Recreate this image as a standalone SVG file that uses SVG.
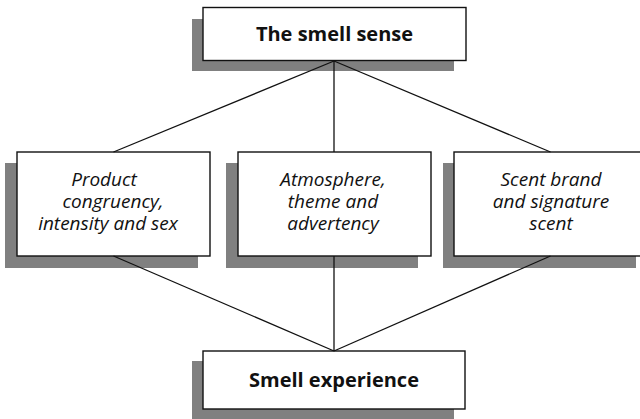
<svg xmlns="http://www.w3.org/2000/svg" width="640" height="419" viewBox="0 0 640 419">
<style>
.shadow{fill:#808080;stroke:none}
.box{fill:#fff;stroke:#111;stroke-width:1.4}
.title{font-family:"Open Sans","Liberation Sans",sans-serif;font-weight:bold;font-size:20px;fill:#111;text-anchor:middle}
.label{font-family:"Open Sans","Liberation Sans",sans-serif;font-style:italic;font-size:19px;fill:#111;text-anchor:middle}
.conn{stroke:#111;stroke-width:1.3;fill:none}
</style>
<rect width="640" height="419" fill="#fff"/>
<g id="node-smell-sense">
<rect class="shadow" x="192" y="19" width="262" height="52"/>
<rect class="box" x="203" y="7.5" width="263" height="53"/>
<text class="title" x="334.5" y="41">The smell sense</text>
</g>
<g id="node-product">
<rect class="shadow" x="5" y="163" width="193" height="105"/>
<rect class="box" x="17" y="152" width="193" height="104"/>
<text class="label" y="186"><tspan x="104">Product</tspan><tspan x="113" dy="22">congruency,</tspan><tspan x="108" dy="22">intensity and sex</tspan></text>
</g>
<g id="node-atmosphere">
<rect class="shadow" x="226" y="163" width="192" height="105"/>
<rect class="box" x="238" y="152" width="193" height="104"/>
<text class="label" y="186"><tspan x="333">Atmosphere,</tspan><tspan x="333" dy="22">theme and</tspan><tspan x="333" dy="22">advertency</tspan></text>
</g>
<g id="node-scent">
<rect class="shadow" x="443" y="163" width="193" height="105"/>
<rect class="box" x="454" y="152" width="193" height="104"/>
<text class="label" y="186"><tspan x="551">Scent brand</tspan><tspan x="551" dy="22">and signature</tspan><tspan x="551" dy="22">scent</tspan></text>
</g>
<g id="node-smell-experience">
<rect class="shadow" x="192" y="361" width="262" height="60"/>
<rect class="box" x="203" y="351" width="262" height="58"/>
<text class="title" x="334" y="387">Smell experience</text>
</g>
<g id="connectors">
<line class="conn" x1="334" y1="61" x2="113.5" y2="152"/>
<line class="conn" x1="334" y1="61" x2="334" y2="152"/>
<line class="conn" x1="334" y1="61" x2="550.5" y2="152"/>
<line class="conn" x1="113.5" y1="256" x2="334" y2="351"/>
<line class="conn" x1="334" y1="256" x2="334" y2="351"/>
<line class="conn" x1="550.5" y1="256" x2="334" y2="351"/>
</g>
</svg>
